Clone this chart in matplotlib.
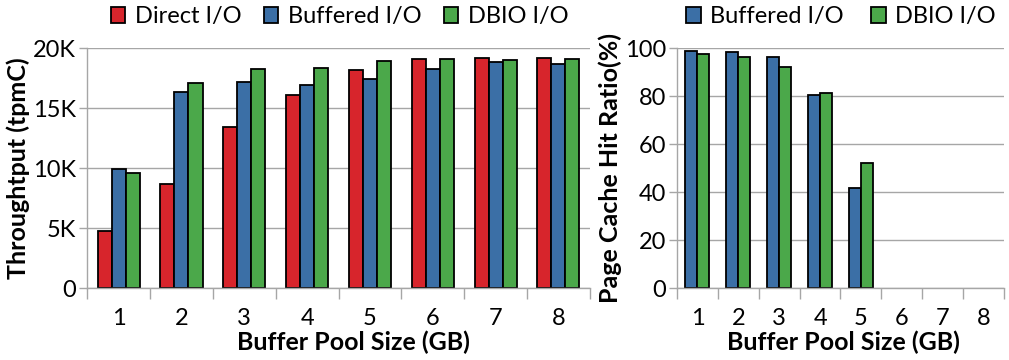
import numpy as np
import matplotlib
matplotlib.use('Agg')
import matplotlib.pyplot as plt
from matplotlib.patches import Patch

plt.rcParams['font.family'] = ['Lato', 'DejaVu Sans']

# Dados
sizes = ['1', '2', '3', '4', '5', '6', '7', '8']
direct_tp = [4750, 8670, 13440, 16130, 18150, 19080, 19170, 19160]
buffered_tp = [9940, 16380, 17170, 16920, 17400, 18250, 18860, 18700]
dbio_tp = [9630, 17080, 18250, 18380, 18920, 19110, 19030, 19080]

buffered_hit = [98.8, 98.3, 96.3, 80.6, 42.0]
dbio_hit = [97.4, 96.3, 92.1, 81.3, 52.2]

c_red = '#d7252c'
c_blue = '#3b6fa6'
c_green = '#4ba84a'
grid_c = '#a6a6a6'
fs_tick = 17
fs_lab = 18
fs_leg = 17

fig = plt.figure(figsize=(10.09, 3.6), dpi=100)
ax1 = fig.add_axes([0.0865, 0.199, 0.498, 0.667])
ax2 = fig.add_axes([0.671, 0.199, 0.324, 0.667])


def style(ax, label_x):
    ax.set_axisbelow(True)
    ax.yaxis.grid(True, color=grid_c, linewidth=1.0)
    for s in ['top', 'right']:
        ax.spines[s].set_visible(False)
    for s in ['left', 'bottom']:
        ax.spines[s].set_color(grid_c)
        ax.spines[s].set_linewidth(1.0)
    ax.set_xlim(0, len(sizes))
    ax.set_xticks(np.arange(len(sizes) + 1))
    ax.set_xticklabels([])
    ax.set_xticks(np.arange(len(sizes)) + 0.5, minor=True)
    ax.set_xticklabels(sizes, minor=True, fontsize=fs_tick)
    ax.tick_params(axis='x', which='major', length=8, color=grid_c, width=1.0)
    ax.tick_params(axis='x', which='minor', length=0, pad=14)
    ax.tick_params(axis='y', length=6, color=grid_c, width=1.0, labelsize=fs_tick, pad=2)
    ax.set_xlabel('Buffer Pool Size (GB)', fontsize=fs_lab, fontweight='bold')
    ax.xaxis.set_label_coords(label_x, -0.175)


# Grafico da esquerda
x = np.arange(len(sizes)) + 0.5
w = 0.223
kw = dict(edgecolor='black', linewidth=1.3)
ax1.bar(x - w, direct_tp, w, color=c_red, **kw)
ax1.bar(x, buffered_tp, w, color=c_blue, **kw)
ax1.bar(x + w, dbio_tp, w, color=c_green, **kw)
style(ax1, 0.53)
ax1.set_ylim(0, 20000)
ax1.set_yticks([0, 5000, 10000, 15000, 20000])
ax1.set_yticklabels(['0', '5K', '10K', '15K', '20K'])
ax1.set_ylabel('Throughtput (tpmC)', fontsize=fs_lab, fontweight='bold', labelpad=2)

# Grafico da direita
x2 = np.arange(len(buffered_hit)) + 0.5
w2 = 0.294
ax2.bar(x2 - w2 / 2, buffered_hit, w2, color=c_blue, **kw)
ax2.bar(x2 + w2 / 2, dbio_hit, w2, color=c_green, **kw)
style(ax2, 0.51)
ax2.set_ylim(0, 100)
ax2.set_yticks([0, 20, 40, 60, 80, 100])
ax2.set_ylabel('Page Cache Hit Ratio(%)', fontsize=fs_lab, fontweight='bold', labelpad=2)

# Legendas
def handle(c, label):
    return Patch(facecolor=c, edgecolor='black', linewidth=1.3, label=label)

fig.legend(handles=[handle(c_red, 'Direct I/O'), handle(c_blue, 'Buffered I/O'),
                    handle(c_green, 'DBIO I/O')],
           loc='center', bbox_to_anchor=(0.3365, 0.953), ncol=3, frameon=False,
           fontsize=fs_leg, handlelength=0.62, handleheight=0.62, handletextpad=0.4,
           columnspacing=0.95, borderpad=0)
fig.legend(handles=[handle(c_blue, 'Buffered I/O'), handle(c_green, 'DBIO I/O')],
           loc='center', bbox_to_anchor=(0.8335, 0.953), ncol=2, frameon=False,
           fontsize=fs_leg, handlelength=0.62, handleheight=0.62, handletextpad=0.4,
           columnspacing=1.15, borderpad=0)

fig.savefig('out.png', dpi=100)
